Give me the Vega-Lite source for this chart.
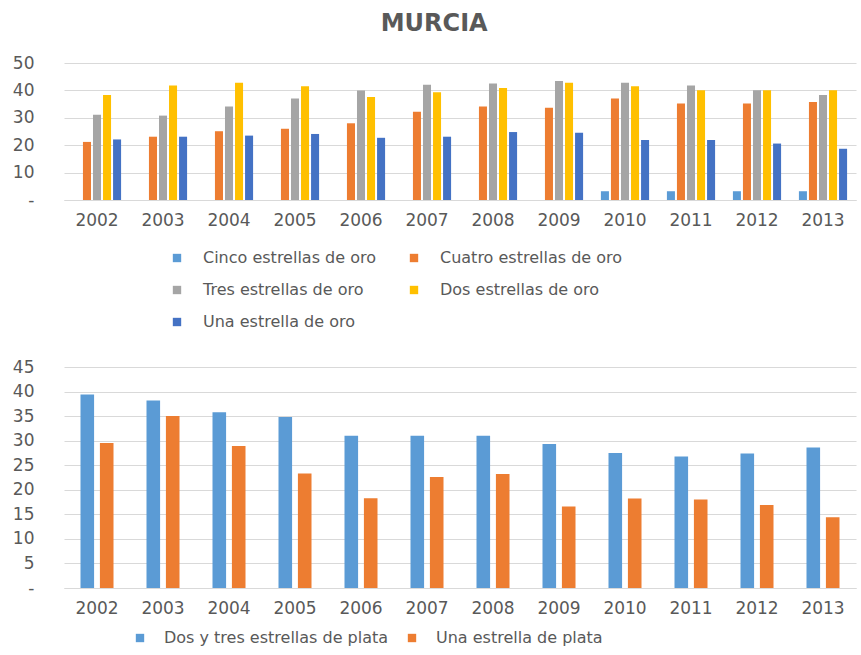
{
  "$schema": "https://vega.github.io/schema/vega-lite/v6.json",
  "background": "white",
  "padding": {"left": 12, "top": 12, "right": 4, "bottom": 4},
  "title": {"text": "MURCIA", "fontSize": 24, "font": "DejaVu Sans", "fontWeight": "bold", "color": "#595959", "anchor": "middle", "offset": 18},
  "config": {
    "font": "DejaVu Sans",
    "view": {"stroke": null},
    "axis": {"labelColor": "#595959", "labelFontSize": 17, "labelFont": "DejaVu Sans", "gridColor": "#D9D9D9", "domainColor": "#D9D9D9", "ticks": false, "title": null},
    "axisX": {"grid": false, "domain": true, "labelPadding": 12, "labelAngle": 0},
    "axisY": {"domain": false, "grid": true, "labelPadding": 30},
    "legend": {"labelColor": "#595959", "labelFontSize": 16, "labelFont": "DejaVu Sans", "labelLimit": 400, "symbolType": "square", "symbolSize": 70, "symbolStrokeWidth": 0, "title": null, "padding": 0},
    "concat": {"spacing": 28}
  },
  "resolve": {"scale": {"color": "independent", "x": "independent", "xOffset": "independent", "y": "independent"}, "legend": {"color": "independent"}},
  "vconcat": [
    {
      "width": 792,
      "height": 137,
      "data": {"values": [
        {"year": "2002", "serie": "Cuatro estrellas de oro", "value": 21.2},
        {"year": "2002", "serie": "Tres estrellas de oro", "value": 31.1},
        {"year": "2002", "serie": "Dos estrellas de oro", "value": 38.3},
        {"year": "2002", "serie": "Una estrella de oro", "value": 22.1},
        {"year": "2003", "serie": "Cuatro estrellas de oro", "value": 23.1},
        {"year": "2003", "serie": "Tres estrellas de oro", "value": 30.8},
        {"year": "2003", "serie": "Dos estrellas de oro", "value": 41.8},
        {"year": "2003", "serie": "Una estrella de oro", "value": 23.1},
        {"year": "2004", "serie": "Cuatro estrellas de oro", "value": 25.1},
        {"year": "2004", "serie": "Tres estrellas de oro", "value": 34.1},
        {"year": "2004", "serie": "Dos estrellas de oro", "value": 42.8},
        {"year": "2004", "serie": "Una estrella de oro", "value": 23.5},
        {"year": "2005", "serie": "Cuatro estrellas de oro", "value": 26.0},
        {"year": "2005", "serie": "Tres estrellas de oro", "value": 37.0},
        {"year": "2005", "serie": "Dos estrellas de oro", "value": 41.5},
        {"year": "2005", "serie": "Una estrella de oro", "value": 24.1},
        {"year": "2006", "serie": "Cuatro estrellas de oro", "value": 28.0},
        {"year": "2006", "serie": "Tres estrellas de oro", "value": 40.0},
        {"year": "2006", "serie": "Dos estrellas de oro", "value": 37.6},
        {"year": "2006", "serie": "Una estrella de oro", "value": 22.7},
        {"year": "2007", "serie": "Cuatro estrellas de oro", "value": 32.2},
        {"year": "2007", "serie": "Tres estrellas de oro", "value": 42.1},
        {"year": "2007", "serie": "Dos estrellas de oro", "value": 39.3},
        {"year": "2007", "serie": "Una estrella de oro", "value": 23.1},
        {"year": "2008", "serie": "Cuatro estrellas de oro", "value": 34.1},
        {"year": "2008", "serie": "Tres estrellas de oro", "value": 42.5},
        {"year": "2008", "serie": "Dos estrellas de oro", "value": 40.9},
        {"year": "2008", "serie": "Una estrella de oro", "value": 24.8},
        {"year": "2009", "serie": "Cuatro estrellas de oro", "value": 33.7},
        {"year": "2009", "serie": "Tres estrellas de oro", "value": 43.4},
        {"year": "2009", "serie": "Dos estrellas de oro", "value": 42.8},
        {"year": "2009", "serie": "Una estrella de oro", "value": 24.5},
        {"year": "2010", "serie": "Cinco estrellas de oro", "value": 3.2},
        {"year": "2010", "serie": "Cuatro estrellas de oro", "value": 37.0},
        {"year": "2010", "serie": "Tres estrellas de oro", "value": 42.8},
        {"year": "2010", "serie": "Dos estrellas de oro", "value": 41.5},
        {"year": "2010", "serie": "Una estrella de oro", "value": 21.9},
        {"year": "2011", "serie": "Cinco estrellas de oro", "value": 3.2},
        {"year": "2011", "serie": "Cuatro estrellas de oro", "value": 35.2},
        {"year": "2011", "serie": "Tres estrellas de oro", "value": 41.8},
        {"year": "2011", "serie": "Dos estrellas de oro", "value": 40.1},
        {"year": "2011", "serie": "Una estrella de oro", "value": 21.9},
        {"year": "2012", "serie": "Cinco estrellas de oro", "value": 3.2},
        {"year": "2012", "serie": "Cuatro estrellas de oro", "value": 35.2},
        {"year": "2012", "serie": "Tres estrellas de oro", "value": 40.1},
        {"year": "2012", "serie": "Dos estrellas de oro", "value": 40.1},
        {"year": "2012", "serie": "Una estrella de oro", "value": 20.6},
        {"year": "2013", "serie": "Cinco estrellas de oro", "value": 3.2},
        {"year": "2013", "serie": "Cuatro estrellas de oro", "value": 35.8},
        {"year": "2013", "serie": "Tres estrellas de oro", "value": 38.3},
        {"year": "2013", "serie": "Dos estrellas de oro", "value": 40.1},
        {"year": "2013", "serie": "Una estrella de oro", "value": 18.7}
      ]},
      "mark": {"type": "bar"},
      "encoding": {
        "x": {"field": "year", "type": "nominal", "sort": null, "scale": {"domain": ["2002","2003","2004","2005","2006","2007","2008","2009","2010","2011","2012","2013"], "paddingInner": 0.27, "paddingOuter": 0.135}},
        "xOffset": {"field": "serie", "type": "nominal", "scale": {"domain": ["Cinco estrellas de oro", "Cuatro estrellas de oro", "Tres estrellas de oro", "Dos estrellas de oro", "Una estrella de oro"], "paddingInner": 0.2, "paddingOuter": 0}},
        "y": {"field": "value", "type": "quantitative", "scale": {"domain": [0, 50]}, "axis": {"values": [0, 10, 20, 30, 40, 50], "labelExpr": "datum.value == 0 ? '-\u00a0\u00a0\u00a0' : datum.label"}},
        "color": {"field": "serie", "type": "nominal", "scale": {"domain": ["Cinco estrellas de oro", "Cuatro estrellas de oro", "Tres estrellas de oro", "Dos estrellas de oro", "Una estrella de oro"], "range": ["#5B9BD5", "#ED7D31", "#A5A5A5", "#FFC000", "#4472C4"]},
          "legend": {"orient": "none", "legendX": 105, "legendY": 187, "columns": 2, "direction": "horizontal", "columnPadding": 30, "rowPadding": 16, "labelOffset": 18, "gridAlign": "each"}}
      }
    },
    {
      "width": 792,
      "height": 221,
      "data": {"values": [
        {"year": "2002", "serie": "Dos y tres estrellas de plata", "value": 39.4},
        {"year": "2002", "serie": "Una estrella de plata", "value": 29.5},
        {"year": "2003", "serie": "Dos y tres estrellas de plata", "value": 38.2},
        {"year": "2003", "serie": "Una estrella de plata", "value": 35.0},
        {"year": "2004", "serie": "Dos y tres estrellas de plata", "value": 35.8},
        {"year": "2004", "serie": "Una estrella de plata", "value": 28.9},
        {"year": "2005", "serie": "Dos y tres estrellas de plata", "value": 34.8},
        {"year": "2005", "serie": "Una estrella de plata", "value": 23.3},
        {"year": "2006", "serie": "Dos y tres estrellas de plata", "value": 31.0},
        {"year": "2006", "serie": "Una estrella de plata", "value": 18.3},
        {"year": "2007", "serie": "Dos y tres estrellas de plata", "value": 31.0},
        {"year": "2007", "serie": "Una estrella de plata", "value": 22.6},
        {"year": "2008", "serie": "Dos y tres estrellas de plata", "value": 31.0},
        {"year": "2008", "serie": "Una estrella de plata", "value": 23.2},
        {"year": "2009", "serie": "Dos y tres estrellas de plata", "value": 29.3},
        {"year": "2009", "serie": "Una estrella de plata", "value": 16.6},
        {"year": "2010", "serie": "Dos y tres estrellas de plata", "value": 27.5},
        {"year": "2010", "serie": "Una estrella de plata", "value": 18.2},
        {"year": "2011", "serie": "Dos y tres estrellas de plata", "value": 26.8},
        {"year": "2011", "serie": "Una estrella de plata", "value": 18.0},
        {"year": "2012", "serie": "Dos y tres estrellas de plata", "value": 27.4},
        {"year": "2012", "serie": "Una estrella de plata", "value": 16.9},
        {"year": "2013", "serie": "Dos y tres estrellas de plata", "value": 28.6},
        {"year": "2013", "serie": "Una estrella de plata", "value": 14.4}
      ]},
      "mark": {"type": "bar"},
      "encoding": {
        "x": {"field": "year", "type": "nominal", "sort": null, "scale": {"domain": ["2002","2003","2004","2005","2006","2007","2008","2009","2010","2011","2012","2013"], "paddingInner": 0.5, "paddingOuter": 0.25}},
        "xOffset": {"field": "serie", "type": "nominal", "scale": {"domain": ["Dos y tres estrellas de plata", "Una estrella de plata"], "paddingInner": 0.3, "paddingOuter": 0}},
        "y": {"field": "value", "type": "quantitative", "scale": {"domain": [0, 45]}, "axis": {"values": [0, 5, 10, 15, 20, 25, 30, 35, 40, 45], "labelExpr": "datum.value == 0 ? '-\u00a0\u00a0\u00a0' : datum.label"}},
        "color": {"field": "serie", "type": "nominal", "scale": {"domain": ["Dos y tres estrellas de plata", "Una estrella de plata"], "range": ["#5B9BD5", "#ED7D31"]},
          "legend": {"orient": "none", "legendX": 68, "legendY": 263, "direction": "horizontal", "columnPadding": 15, "labelOffset": 16}}
      }
    }
  ]
}
